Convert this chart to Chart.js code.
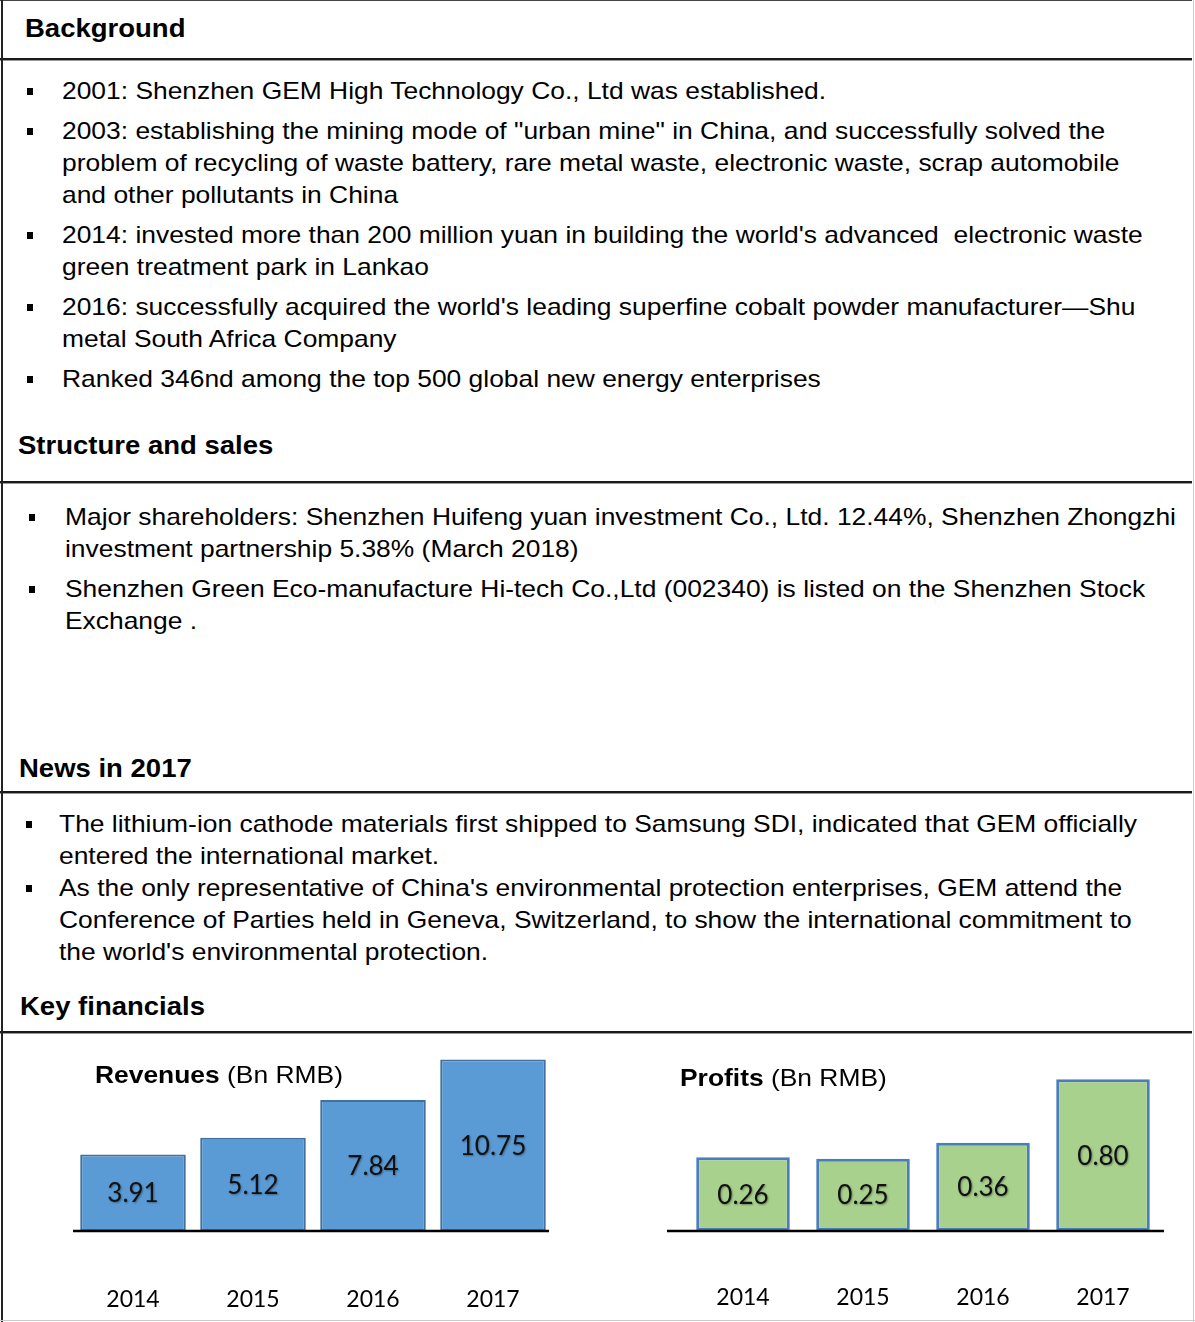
<!DOCTYPE html>
<html>
<head>
<meta charset="utf-8">
<script src="https://cdn.jsdelivr.net/npm/chart.js@4"></script>
<style>
  html, body { margin:0; padding:0; background:#fff; }
  body { width:1195px; height:1322px; position:relative; overflow:hidden; }
  .t { position:absolute; font-family:'Liberation Sans', Arial, sans-serif; font-size:24px; line-height:32px;
       white-space:pre; color:#000; transform:scaleX(1.1); transform-origin:0 0; }
  .h { font-weight:bold; font-size:25px; }
  .b { position:absolute; width:6px; height:7px; background:#000; }
  .hl { position:absolute; left:0; width:1192px; height:2px; background:#1a1a1a; box-shadow:0 1px 0 #999; }
  .cv { position:absolute; }
</style>
</head>
<body>
<div id="text"></div>

<canvas id="rev" class="cv" style="left:0;top:1040px" width="600" height="282"></canvas>
<canvas id="pro" class="cv" style="left:600px;top:1040px" width="595" height="282"></canvas>

<div class="t" style="left:95px;top:1059px"><b>Revenues</b> (Bn RMB)</div>
<div class="t" style="left:680px;top:1062px"><b>Profits</b> (Bn RMB)</div>

<div style="position:absolute;left:0;top:0;width:1192px;height:1px;background:#444"></div>
<div style="position:absolute;left:1px;top:0;width:2px;height:1322px;background:#222"></div>
<div style="position:absolute;left:1193px;top:0;width:1px;height:1322px;background:#ccc"></div>
<div style="position:absolute;left:0;top:1320px;width:1195px;height:1px;background:#ccc"></div>

<script>
// ---- data ----
const years = ['2014', '2015', '2016', '2017'];
const revenues = [3.91, 5.12, 7.84, 10.75];
const profits = [0.26, 0.25, 0.36, 0.80];

// ---- text blocks ----
const sections = [
  { title: 'Background', tx: 25, ty: 28, line: 59, bx: 27, lx: 62, items: [
    { y: 91, lines: ['2001: Shenzhen GEM High Technology Co., Ltd was established.'] },
    { y: 131, lines: ['2003: establishing the mining mode of "urban mine" in China, and successfully solved the',
                      'problem of recycling of waste battery, rare metal waste, electronic waste, scrap automobile',
                      'and other pollutants in China'] },
    { y: 235, lines: ["2014: invested more than 200 million yuan in building the world's advanced  electronic waste",
                      'green treatment park in Lankao'] },
    { y: 307, lines: ["2016: successfully acquired the world's leading superfine cobalt powder manufacturer\u2014Shu",
                      'metal South Africa Company'] },
    { y: 379, lines: ['Ranked 346nd among the top 500 global new energy enterprises'] }
  ]},
  { title: 'Structure and sales', tx: 18, ty: 445, line: 482, bx: 29, lx: 65, items: [
    { y: 517, lines: ['Major shareholders: Shenzhen Huifeng yuan investment Co., Ltd. 12.44%, Shenzhen Zhongzhi',
                      'investment partnership 5.38% (March 2018)'] },
    { y: 589, lines: ['Shenzhen Green Eco-manufacture Hi-tech Co.,Ltd (002340) is listed on the Shenzhen Stock',
                      'Exchange .'] }
  ]},
  { title: 'News in 2017', tx: 19, ty: 768, line: 792, bx: 26, lx: 59, items: [
    { y: 824, lines: ['The lithium-ion cathode materials first shipped to Samsung SDI, indicated that GEM officially',
                      'entered the international market.'] },
    { y: 888, lines: ["As the only representative of China's environmental protection enterprises, GEM attend the",
                      'Conference of Parties held in Geneva, Switzerland, to show the international commitment to',
                      "the world's environmental protection."] }
  ]},
  { title: 'Key financials', tx: 20, ty: 1006, line: 1032, items: [] }
];

const host = document.getElementById('text');
let html = '';
sections.forEach(s => {
  html += `<div class="t h" style="left:${s.tx}px;top:${s.ty - 16}px">${s.title}</div>`;
  html += `<div class="hl" style="top:${s.line - 1}px"></div>`;
  s.items.forEach(it => {
    html += `<div class="b" style="left:${s.bx}px;top:${it.y - 3}px"></div>`;
    it.lines.forEach((ln, k) => {
      const esc = ln.replace(/&/g, '&amp;').replace(/</g, '&lt;');
      html += `<div class="t" style="left:${s.lx}px;top:${it.y + 32 * k - 16}px">${esc}</div>`;
    });
  });
});
host.innerHTML = html;

// ---- charts ----
const barDecor = {
  id: 'barDecor',
  afterDatasetsDraw(chart, args, opts) {
    const ctx = chart.ctx, ca = chart.chartArea, ys = chart.scales.y;
    const y0 = ys.getPixelForValue(ys.min);
    ctx.save();
    ctx.strokeStyle = '#000';
    ctx.lineWidth = 2.5;
    ctx.beginPath();
    ctx.moveTo(ca.left + opts.extL, y0);
    ctx.lineTo(ca.right + opts.extR, y0);
    ctx.stroke();
    const meta = chart.getDatasetMeta(0);
    const vals = chart.data.datasets[0].data;
    ctx.font = '26px Lato';
    ctx.textAlign = 'center';
    ctx.textBaseline = 'middle';
    ctx.shadowColor = 'rgba(0,0,0,0.35)';
    ctx.shadowOffsetX = 1;
    ctx.shadowOffsetY = 1;
    ctx.shadowBlur = 2;
    ctx.fillStyle = '#111';
    meta.data.forEach((bar, i) => {
      ctx.fillText(vals[i].toFixed(2), bar.x, (bar.y + bar.base) / 2 + 1);
    });
    ctx.restore();
  }
};

function makeChart(id, values, fill, border, bw, barPct, yMin, yMax, pad, ext, axisH, tickPad) {
  return new Chart(document.getElementById(id), {
    type: 'bar',
    data: {
      labels: years,
      datasets: [{
        data: values,
        backgroundColor: fill,
        borderColor: border,
        borderWidth: bw,
        borderSkipped: false,
        base: yMin,
        barPercentage: barPct,
        categoryPercentage: 1
      }]
    },
    options: {
      responsive: false,
      animation: false,
      layout: { padding: pad },
      plugins: { legend: { display: false }, tooltip: { enabled: false }, barDecor: ext },
      scales: {
        x: {
          grid: { display: false, drawTicks: false },
          border: { display: false },
          ticks: { color: '#000', font: { family: 'Lato', size: 23 }, padding: tickPad },
          afterFit(scale) { scale.height = axisH; }
        },
        y: { display: false, min: yMin, max: yMax }
      }
    },
    plugins: [barDecor]
  });
}

Promise.all([
  document.fonts.load('26px Lato'),
  document.fonts.load('23px Lato'),
  document.fonts.load('24px "Liberation Sans"')
]).catch(() => {}).then(() => {
  makeChart('rev', revenues, '#5B9BD5', '#41719C', 2, 0.88, -1.6, 11,
            { left: 73, right: 47, top: 16, bottom: 0 }, { extL: 0, extR: -4 }, 91, 55);
  makeChart('pro', profits, '#A9D18E', '#4A7EBB', 3, 0.78, -0.25, 0.85,
            { left: 83, right: 32, top: 32, bottom: 0 }, { extL: -16, extR: 1 }, 91, 53);
});
</script>
</body>
</html>
